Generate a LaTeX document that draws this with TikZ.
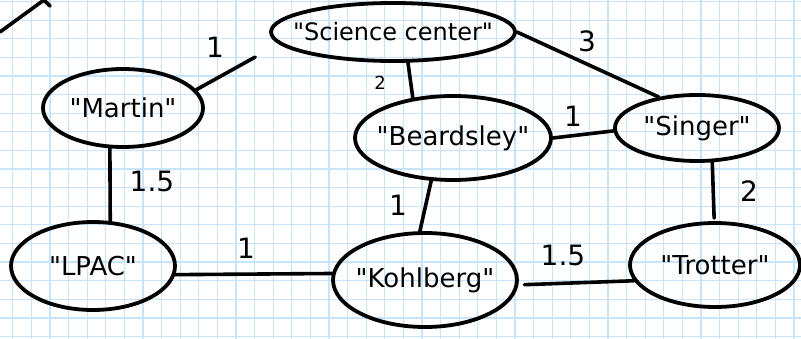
\documentclass[tikz,border=0pt]{standalone}
\usepackage{fontspec}
\setmainfont{DejaVu Sans}
\usetikzlibrary{shapes.geometric,calc}
\definecolor{gridblue}{RGB}{200,228,250}
\newcommand{\qq}{\textquotedbl}
\newcommand{\ptext}[1]{\makebox[0pt][c]{\qq #1\qq}}
\tikzset{
  gridline/.style={draw=gridblue, line width=1.2pt},
  place/.style={draw=black, ellipse, line width=3.8pt, inner sep=0pt,
    font=\fontsize{26}{28}\selectfont},
  edge/.style={draw=black, line width=3.6pt, line cap=round},
  wlabel/.style={font=\fontsize{28}{30}\selectfont, inner sep=0pt},
}
\begin{document}
\begin{tikzpicture}[x=1pt,y=-1pt]
\fill[white] (0,0) rectangle (801,339);
\useasboundingbox (0,0) rectangle (801,339);
\foreach \i in {0,...,42} \draw[gridline] ({12.7+18.6*\i},0) -- ++(0,339);
\foreach \i in {0,...,18} \draw[gridline] (0,{1.7+18.6*\i}) -- ++(801,0);

\node[place, minimum width=244pt, minimum height=58pt, font=\fontsize{24}{26}\selectfont] (sci) at (393,32) {\ptext{Science center}};
\node[place, minimum width=160pt, minimum height=78pt] (martin) at (123,108) {\ptext{Martin}};
\node[place, minimum width=196pt, minimum height=84pt] (beard) at (453,138) {\ptext{Beardsley}};
\node[place, minimum width=164pt, minimum height=66pt] (singer) at (697,128) {\ptext{Singer}};
\node[place, minimum width=164pt, minimum height=88pt] (lpac) at (93,266) {\ptext{LPAC}};
\node[place, minimum width=184pt, minimum height=94pt] (kohl) at (425,280) {\ptext{Kohlberg}};
\node[place, minimum width=170pt, minimum height=84pt] (trotter) at (715,265) {\ptext{Trotter}};

\draw[edge, shorten >=27pt] (martin.14) -- (sci.186);
\draw[edge] (sci.0) -- (singer.141);
\draw[edge] (sci.-64) -- (beard.135);
\draw[edge] (beard.0) -- (singer.182);
\draw[edge] (martin.252) -- (lpac.69);
\draw[edge] (beard.243) -- (kohl.96);
\draw[edge] (lpac.-6) -- (kohl.176);
\draw[edge, shorten <=6pt] (kohl.-3) -- (trotter.191);
\draw[edge, shorten >=3pt] (singer.-66) -- (trotter.91);

\coordinate (strayA) at (0,32);
\coordinate (strayB) at (44,0);
\coordinate (strayC) at (50,6);
\draw[edge] (strayA) -- (strayB) -- (strayC);

\node[wlabel] (l1) at (215,47) {1};
\node[wlabel] (l2) at (587,41) {3};
\node[wlabel, font=\fontsize{18}{20}\selectfont] (l3) at (380,83) {2};
\node[wlabel] (l4) at (573,116) {1};
\node[wlabel] (l5) at (152,181) {1.5};
\node[wlabel] (l6) at (398,205) {1};
\node[wlabel] (l7) at (246,248) {1};
\node[wlabel] (l8) at (563,255) {1.5};
\node[wlabel] (l9) at (749,191) {2};
\end{tikzpicture}
\end{document}
